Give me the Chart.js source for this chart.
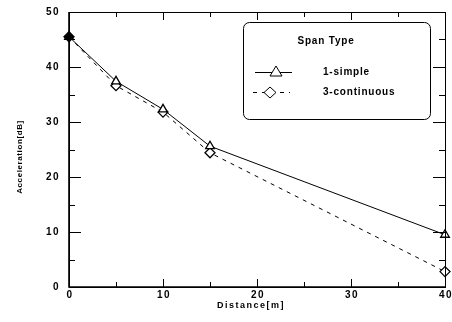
<!DOCTYPE html>
<html>
<head>
<meta charset="utf-8">
<script src="https://cdn.jsdelivr.net/npm/chart.js@4.4.1/dist/chart.umd.min.js"></script>
<style>
  html, body { margin: 0; padding: 0; background: #fff; }
  #wrap { width: 452px; height: 322px; position: relative; }
</style>
</head>
<body>
<div id="wrap"><canvas id="accelChart" width="452" height="322"></canvas></div>
<script>
// distance from the source (m)
const distances = [0, 5, 10, 15, 40];
// acceleration level (dB) per span type
const simpleSpan = [45.5, 37.4, 32.3, 25.6, 9.5];
const continuousSpan = [45.5, 36.6, 31.8, 24.4, 2.8];
const xTicks = [0, 10, 20, 30, 40];
const yTicks = [0, 10, 20, 30, 40, 50];

const FONT = 'bold 10px "Liberation Sans", Arial, sans-serif';

const toPoints = (ys) => distances.map((d, i) => ({ x: d, y: ys[i] }));
const fills = distances.map((d, i) => i === 0 ? '#000' : '#fff');

// frame, inward ticks on all four sides, tick labels and axis titles
const frameAxes = {
    id: 'frameAxes',
    afterDraw(chart) {
        const { ctx, chartArea: a, scales } = chart;
        const xs = scales.x, ys = scales.y;
        ctx.save();
        ctx.strokeStyle = '#000';
        ctx.lineWidth = 1;
        ctx.strokeRect(a.left + 0.5, a.top + 0.5, a.right - a.left, a.bottom - a.top);
        ctx.lineWidth = 1.6;
        ctx.beginPath();
        ctx.moveTo(a.left, a.top); ctx.lineTo(a.left, a.bottom); ctx.lineTo(a.right, a.bottom);
        ctx.stroke();

        ctx.lineWidth = 1;
        ctx.beginPath();
        for (let v = 0; v <= 40; v += 5) {
            const px = Math.round(xs.getPixelForValue(v)) + 0.5;
            const len = v % 10 === 0 ? 8 : 5;
            ctx.moveTo(px, a.bottom); ctx.lineTo(px, a.bottom - len);
            ctx.moveTo(px, a.top); ctx.lineTo(px, a.top + len);
        }
        for (let v = 0; v <= 50; v += 5) {
            const py = Math.round(ys.getPixelForValue(v)) + 0.5;
            const len = v % 10 === 0 ? 12 : 6;
            ctx.moveTo(a.left, py); ctx.lineTo(a.left + len, py);
            ctx.moveTo(a.right, py); ctx.lineTo(a.right - len, py);
        }
        ctx.stroke();

        ctx.fillStyle = '#000';
        ctx.font = FONT;
        ctx.letterSpacing = '1.5px';
        ctx.textBaseline = 'middle';
        ctx.textAlign = 'right';
        yTicks.forEach(v => ctx.fillText(String(v), a.left - 9, ys.getPixelForValue(v)));
        ctx.textAlign = 'center';
        xTicks.forEach(v => ctx.fillText(String(v), xs.getPixelForValue(v) + 1, a.bottom + 8));

        ctx.font = 'bold 9px "Liberation Sans", Arial, sans-serif';
        ctx.letterSpacing = '1.5px';
        ctx.fillText('Distance[m]', 251, a.bottom + 19);
        ctx.translate(20, 157);
        ctx.rotate(-Math.PI / 2);
        ctx.font = 'bold 8px "Liberation Sans", Arial, sans-serif';
        ctx.letterSpacing = '0.6px';
        ctx.fillText('Acceleration[dB]', 0, 0);
        ctx.restore();
    }
};

// boxed legend in the upper right of the plot
const spanLegend = {
    id: 'spanLegend',
    afterDraw(chart) {
        const { ctx } = chart;
        ctx.save();
        ctx.strokeStyle = '#000';
        ctx.lineWidth = 1;
        ctx.beginPath();
        ctx.roundRect(243.5, 22.5, 187, 97, 6);
        ctx.stroke();

        ctx.fillStyle = '#000';
        ctx.font = FONT;
        ctx.textBaseline = 'middle';
        ctx.textAlign = 'center';
        ctx.letterSpacing = '0.8px';
        ctx.fillText('Span Type', 326, 41);
        ctx.textAlign = 'left';
        ctx.fillText('1-simple', 323, 72);
        ctx.fillText('3-continuous', 323, 92);

        // solid sample with triangle
        ctx.beginPath();
        ctx.moveTo(255, 72.5); ctx.lineTo(292, 72.5);
        ctx.stroke();
        ctx.fillStyle = '#fff';
        ctx.beginPath();
        ctx.moveTo(276, 66); ctx.lineTo(282, 76); ctx.lineTo(270, 76); ctx.closePath();
        ctx.fill(); ctx.stroke();

        // dashed sample with diamond
        ctx.setLineDash([4, 5]);
        ctx.beginPath();
        ctx.moveTo(253, 92.5); ctx.lineTo(290, 92.5);
        ctx.stroke();
        ctx.setLineDash([]);
        ctx.beginPath();
        ctx.moveTo(270, 87); ctx.lineTo(276, 92.5); ctx.lineTo(270, 98); ctx.lineTo(264, 92.5); ctx.closePath();
        ctx.fill(); ctx.stroke();
        ctx.restore();
    }
};

new Chart(document.getElementById('accelChart'), {
    type: 'line',
    data: {
        datasets: [
            {
                label: '1-simple',
                data: toPoints(simpleSpan),
                borderColor: '#000',
                borderWidth: 1,
                tension: 0,
                clip: false,
                pointStyle: 'triangle',
                pointRadius: 5,
                pointBorderWidth: 1.3,
                pointBorderColor: '#000',
                pointBackgroundColor: fills
            },
            {
                label: '3-continuous',
                data: toPoints(continuousSpan),
                borderColor: '#000',
                borderWidth: 1,
                borderDash: [4, 5],
                tension: 0,
                clip: false,
                pointStyle: 'rectRot',
                pointRadius: 5,
                pointBorderWidth: 1.3,
                pointBorderColor: '#000',
                pointBackgroundColor: fills
            }
        ]
    },
    options: {
        responsive: false,
        animation: false,
        events: [],
        layout: { autoPadding: false, padding: { left: 69, right: 7, top: 12, bottom: 35 } },
        plugins: { legend: { display: false }, tooltip: { enabled: false } },
        scales: {
            x: {
                type: 'linear', min: 0, max: 40,
                ticks: { display: false, padding: 0 },
                grid: { display: false, drawTicks: false },
                border: { display: false }
            },
            y: {
                min: 0, max: 50,
                ticks: { display: false, padding: 0 },
                grid: { display: false, drawTicks: false },
                border: { display: false }
            }
        }
    },
    plugins: [frameAxes, spanLegend]
});
</script>
</body>
</html>
